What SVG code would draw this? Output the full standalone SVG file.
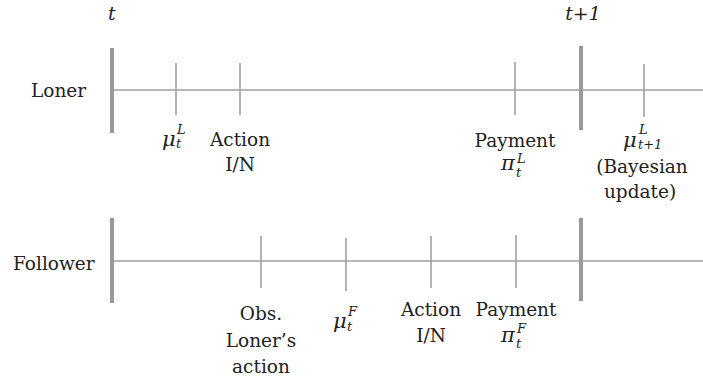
<svg xmlns="http://www.w3.org/2000/svg" width="703" height="382" viewBox="0 0 703 382">
<style>
.lbl{font-family:"DejaVu Serif","Liberation Serif",serif;font-size:18.5px;fill:#222;}
.c{text-anchor:middle;}
.m{font-family:"DejaVu Serif","Liberation Serif",serif;font-style:italic;fill:#222;}
.big{font-size:19px;}
.mu{font-size:21px;}
.sm{font-size:13px;}
.axis{stroke:#a0a0a0;stroke-width:1.6;fill:none;}
.tick{stroke:#a0a0a0;stroke-width:1.6;fill:none;}
.bar{stroke:#999;stroke-width:4;fill:none;}
</style>
<rect width="703" height="382" fill="#fff"/>
<g id="connectors">
  <line class="axis" x1="112" y1="90" x2="703" y2="90"/>
  <line class="axis" x1="112" y1="261" x2="703" y2="261"/>
</g>
<g id="period-t">
  <text class="m big" x="108" y="20">t</text>
  <line class="bar" x1="112" y1="48" x2="112" y2="133"/>
  <line class="bar" x1="112" y1="218" x2="112" y2="303"/>
</g>
<g id="period-t1">
  <text class="m big c" x="583" y="20">t+1</text>
  <line class="bar" x1="581" y1="46" x2="581" y2="130"/>
  <line class="bar" x1="581" y1="218" x2="581" y2="301"/>
</g>
<g id="loner">
  <text class="lbl" x="31" y="97">Loner</text>
</g>
<g id="loner-belief">
  <line class="tick" x1="176" y1="63" x2="176" y2="115"/>
  <text class="m mu" x="162" y="146">μ</text>
  <text class="m sm" x="177" y="134">L</text>
  <text class="m sm" x="176" y="148">t</text>
</g>
<g id="loner-action">
  <line class="tick" x1="240" y1="63" x2="240" y2="115"/>
  <text class="lbl c" x="240" y="146">Action</text>
  <text class="lbl c" x="240" y="171">I/N</text>
</g>
<g id="loner-payment">
  <line class="tick" x1="515" y1="62" x2="515" y2="115"/>
  <text class="lbl c" x="515" y="147">Payment</text>
  <text class="m mu" x="501" y="170">π</text>
  <text class="m sm" x="517" y="163">L</text>
  <text class="m sm" x="516" y="177">t</text>
</g>
<g id="loner-update">
  <line class="tick" x1="644" y1="64" x2="644" y2="117"/>
  <text class="m mu" x="623" y="147">μ</text>
  <text class="m sm" x="639" y="134">L</text>
  <text class="m sm" x="638" y="149">t+1</text>
  <text class="lbl c" x="642" y="173">(Bayesian</text>
  <text class="lbl c" x="640" y="198">update)</text>
</g>
<g id="follower">
  <text class="lbl" x="13" y="270">Follower</text>
</g>
<g id="follower-observe">
  <line class="tick" x1="261" y1="236" x2="261" y2="288"/>
  <text class="lbl c" x="261" y="320">Obs.</text>
  <text class="lbl c" x="261" y="347">Loner’s</text>
  <text class="lbl c" x="261" y="373">action</text>
</g>
<g id="follower-belief">
  <line class="tick" x1="346" y1="238" x2="346" y2="291"/>
  <text class="m mu" x="333" y="328">μ</text>
  <text class="m sm" x="348" y="316">F</text>
  <text class="m sm" x="347" y="331">t</text>
</g>
<g id="follower-action">
  <line class="tick" x1="431" y1="236" x2="431" y2="288"/>
  <text class="lbl c" x="431" y="316">Action</text>
  <text class="lbl c" x="431" y="342">I/N</text>
</g>
<g id="follower-payment">
  <line class="tick" x1="516" y1="235" x2="516" y2="288"/>
  <text class="lbl c" x="516" y="316">Payment</text>
  <text class="m mu" x="501" y="342">π</text>
  <text class="m sm" x="517" y="333">F</text>
  <text class="m sm" x="516" y="348">t</text>
</g>
</svg>
